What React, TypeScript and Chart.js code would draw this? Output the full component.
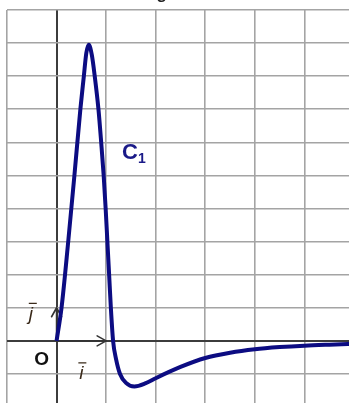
import { useEffect, useRef } from "react";
import { Chart, registerables } from "chart.js";

Chart.register(...registerables);

// Curve C1 (x in units of i, y in units of j)
const xValues = [0, 0.1, 0.235, 0.36, 0.48, 0.55, 0.6, 0.65, 0.71, 0.77, 0.845, 0.9, 0.95, 0.99, 1.025, 1.06, 1.095, 1.14, 1.2, 1.28, 1.4, 1.57, 1.8, 2.0, 2.5, 3.0, 3.5, 4.0, 4.5, 5.0, 5.5, 6.0, 6.3];
const yValues = [0, 1, 3, 5, 7, 8, 8.7, 8.95, 8.65, 8, 7, 6, 5, 4, 3, 2, 1, 0, -0.55, -1, -1.27, -1.38, -1.28, -1.13, -0.79, -0.52, -0.36, -0.255, -0.19, -0.145, -0.115, -0.09, -0.08];

const xRange = [-1, 6];
const yRange = [-2, 10];

const curveName = "C";
const curveIndex = "1";
const originLabel = "O";
const iLabel = "i";
const jLabel = "j";
const titleFragment = "g";

export default function App() {
  const ref = useRef<HTMLCanvasElement>(null);

  useEffect(() => {
    const canvas = ref.current;
    if (!canvas) return;

    const annot = {
      id: "annot",
      beforeDatasetsDraw(chart: any) {
        const { ctx } = chart;
        const x = chart.scales.x;
        const y = chart.scales.y;
        const ox = x.getPixelForValue(0);
        const oy = y.getPixelForValue(0);
        const ix = x.getPixelForValue(1);
        const jy = y.getPixelForValue(1);
        ctx.save();
        ctx.strokeStyle = "#333";
        ctx.lineWidth = 1.6;
        ctx.lineCap = "round";
        ctx.lineJoin = "round";
        ctx.beginPath();
        ctx.moveTo(ox, oy);
        ctx.lineTo(ix, oy);
        ctx.moveTo(ix - 9, oy - 5);
        ctx.lineTo(ix, oy);
        ctx.lineTo(ix - 9, oy + 5);
        ctx.moveTo(ox, oy);
        ctx.lineTo(ox, jy);
        ctx.moveTo(ox - 5, jy + 9);
        ctx.lineTo(ox, jy);
        ctx.lineTo(ox + 5, jy + 9);
        ctx.stroke();
        ctx.restore();
      },
      afterDatasetsDraw(chart: any) {
        const { ctx } = chart;
        const x = chart.scales.x;
        const y = chart.scales.y;
        ctx.save();
        // C1
        ctx.fillStyle = "#1a1a88";
        ctx.textBaseline = "alphabetic";
        ctx.textAlign = "left";
        ctx.font = "bold 22px 'Liberation Sans', Arial, sans-serif";
        const cx = x.getPixelForValue(1.32);
        const cy = y.getPixelForValue(5.5);
        ctx.fillText(curveName, cx, cy);
        const cw = ctx.measureText(curveName).width;
        ctx.font = "bold 14px 'Liberation Sans', Arial, sans-serif";
        ctx.fillText(curveIndex, cx + cw, cy + 4);

        // O
        ctx.fillStyle = "#111";
        ctx.textAlign = "center";
        ctx.font = "bold 19px 'Liberation Sans', Arial, sans-serif";
        ctx.fillText(originLabel, x.getPixelForValue(-0.3), y.getPixelForValue(-0.72));

        // vectors i and j
        ctx.font = "italic 19px 'Liberation Sans', Arial, sans-serif";
        ctx.fillStyle = "#3a2a1a";
        const ipx = x.getPixelForValue(0.5);
        const ipy = y.getPixelForValue(-1.15);
        ctx.fillText(iLabel, ipx, ipy);
        const jpx = x.getPixelForValue(-0.52);
        const jpy = y.getPixelForValue(0.62);
        ctx.fillText(jLabel, jpx, jpy);
        ctx.strokeStyle = "#3a2a1a";
        ctx.lineWidth = 1.2;
        ctx.beginPath();
        ctx.moveTo(ipx - 3, ipy - 16);
        ctx.lineTo(ipx + 5, ipy - 16);
        ctx.moveTo(jpx - 2, jpy - 17);
        ctx.lineTo(jpx + 6, jpy - 17);
        ctx.stroke();

        // cut title fragment at top
        ctx.fillStyle = "#222";
        ctx.font = "bold 17px 'Liberation Sans', Arial, sans-serif";
        ctx.fillText(titleFragment, x.getPixelForValue(2.12), y.getPixelForValue(10.33));
        ctx.restore();
      },
    };

    const chart = new Chart(canvas, {
      type: "scatter",
      data: {
        datasets: [
          {
            data: xValues.map((v, k) => ({ x: v, y: yValues[k] })),
            showLine: true,
            borderColor: "#0c0c82",
            borderWidth: 4,
            pointRadius: 0,
            cubicInterpolationMode: "monotone",
            fill: false,
          },
        ],
      },
      options: {
        responsive: false,
        animation: false,
        events: [],
        layout: { padding: { left: 7, top: 10, right: 6, bottom: 8 } },
        plugins: { legend: { display: false }, tooltip: { enabled: false }, title: { display: false } },
        scales: {
          x: {
            type: "linear",
            min: xRange[0],
            max: xRange[1],
            border: { display: false },
            ticks: { display: false, stepSize: 1 },
            grid: {
              drawTicks: false,
              color: (c: any) => (c.tick && c.tick.value === 0 ? "#3c3c3c" : "#a4a4a4"),
              lineWidth: (c: any) => (c.tick && c.tick.value === 0 ? 2 : 1.6),
            },
          },
          y: {
            type: "linear",
            min: yRange[0],
            max: yRange[1],
            border: { display: false },
            ticks: { display: false, stepSize: 1 },
            grid: {
              drawTicks: false,
              color: (c: any) => (c.tick && c.tick.value === 0 ? "#3c3c3c" : "#a4a4a4"),
              lineWidth: (c: any) => (c.tick && c.tick.value === 0 ? 2 : 1.6),
            },
          },
        },
      },
      plugins: [annot],
    });

    return () => chart.destroy();
  }, []);

  return (
    <div style={{ position: "fixed", left: 0, top: 0, width: 349, height: 403, overflow: "hidden", background: "#fff" }}>
      <canvas ref={ref} width={360} height={415} style={{ display: "block", width: 360, height: 415 }} />
    </div>
  );
}
